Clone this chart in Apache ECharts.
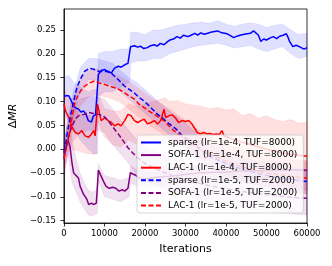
<!DOCTYPE html>
<html><head><meta charset="utf-8">
<script src="https://cdn.jsdelivr.net/npm/echarts@6/dist/echarts.min.js"></script>
<style>html,body{margin:0;padding:0;background:#fff}#c{width:332px;height:266px}</style>
</head><body><div id="c"></div>
<script>
// ---------- data ----------
const seriesNames = ['sparse (lr=1e-4, TUF=8000)','SOFA-1 (lr=1e-4, TUF=8000)','LAC-1 (lr=1e-4, TUF=8000)',
  'sparse (lr=1e-5, TUF=2000)','SOFA-1 (lr=1e-5, TUF=2000)','LAC-1 (lr=1e-5, TUF=2000)'];
const xTicks = [0,10000,20000,30000,40000,50000,60000];
const yTicks = [-0.15,-0.10,-0.05,0.00,0.05,0.10,0.15,0.20,0.25];

// sparse lr=1e-4
const sparse4X = [0,600,1200,1600,2400,3000,3600,4200,4900,5500,6000,6800,7300,7800,8250,8500,9200,10100,10900,11700,12500,13400,14100,15000,15800,16200,16450,17400,18200,18900,19700,20600,21400,22300,23000,23800,24700,25500,26200,27000,27900,28700,29500,30600,31100,32300,33000,33800,34600,35500,36500,37900,39000,40300,41100,41900,42700,43500,44500,46000,46800,47500,48000,48600,49300,50000,50800,51700,52500,53300,54100,54900,55300,55700,56500,57300,58100,58800,59300,60000];
const sparse4Y = [0.111,0.112,0.112,0.105,0.090,0.086,0.084,0.078,0.080,0.072,0.060,0.057,0.070,0.072,0.072,0.157,0.165,0.167,0.162,0.160,0.170,0.174,0.172,0.177,0.180,0.177,0.215,0.217,0.214,0.216,0.211,0.213,0.217,0.219,0.216,0.222,0.219,0.225,0.229,0.231,0.236,0.233,0.239,0.236,0.238,0.243,0.239,0.244,0.241,0.243,0.246,0.248,0.244,0.242,0.238,0.234,0.237,0.239,0.241,0.243,0.248,0.243,0.239,0.226,0.231,0.229,0.233,0.236,0.232,0.237,0.239,0.242,0.235,0.226,0.215,0.218,0.215,0.212,0.210,0.213];
const sparse4BandX = [0,1200,2400,4000,6000,7300,8250,8500,10000,12000,14000,16200,16450,18000,20000,22000,24000,26000,28000,30000,32000,34000,36000,38000,40000,42000,44000,46000,48000,50000,52000,54000,56000,58000,60000];
const sparse4Hi = [0.15,0.155,0.14,0.13,0.12,0.125,0.125,0.2,0.205,0.205,0.21,0.21,0.245,0.245,0.24,0.25,0.25,0.255,0.26,0.262,0.265,0.266,0.264,0.27,0.262,0.258,0.262,0.265,0.262,0.255,0.26,0.262,0.25,0.24,0.243];
const sparse4Lo = [0.07,0.06,0.04,0.02,0.0,-0.01,-0.01,0.11,0.12,0.12,0.13,0.14,0.18,0.185,0.185,0.19,0.19,0.2,0.205,0.21,0.215,0.218,0.22,0.222,0.218,0.212,0.215,0.218,0.21,0.205,0.21,0.215,0.2,0.19,0.195];

// SOFA-1 lr=1e-4
const sofa4X = [0,400,1000,1500,2000,2400,3000,3600,4000,4850,5300,5700,6100,6500,6800,7300,7700,8000,8250,8500,9200,9800,10400,11200,12000,12800,13600,14000,14400,15000,15800,16100,16400,17000,17600,18600,20000,22000,24000,26000,28000,30000,33000,36000,40000,44000,48000,52000,56000,60000];
const sofa4Y = [-0.02,0.0,0.019,0.005,-0.03,-0.05,-0.055,-0.061,-0.078,-0.095,-0.1,-0.106,-0.116,-0.118,-0.113,-0.116,-0.112,-0.113,-0.11,-0.044,-0.057,-0.068,-0.078,-0.082,-0.08,-0.082,-0.088,-0.086,-0.085,-0.088,-0.082,-0.08,-0.049,-0.052,-0.054,-0.061,-0.062,-0.06,-0.058,-0.057,-0.055,-0.053,-0.05,-0.049,-0.048,-0.046,-0.045,-0.044,-0.043,-0.044];
const sofa4BandX = [0,1000,2000,3000,4000,5000,6000,7000,8250,8500,10000,12000,14000,16100,16400,18600,22000,26000,30000,36000,42000,48000,54000,60000];
const sofa4Hi = [0.02,0.05,0.02,-0.02,-0.05,-0.07,-0.085,-0.09,-0.085,-0.03,-0.055,-0.06,-0.065,-0.06,-0.035,-0.045,-0.045,-0.04,-0.035,-0.03,-0.028,-0.025,-0.023,-0.024];
const sofa4Lo = [-0.06,-0.01,-0.07,-0.09,-0.11,-0.125,-0.138,-0.14,-0.135,-0.065,-0.1,-0.105,-0.11,-0.1,-0.07,-0.08,-0.08,-0.075,-0.072,-0.07,-0.068,-0.066,-0.064,-0.065];

// LAC-1 lr=1e-4
const lac4X = [0,400,1200,2000,2800,3600,4400,5200,6100,6800,7300,7700,8100,8300,8900,9200,10100,10900,11700,12500,13400,14100,15000,15800,16600,17400,18200,19000,19800,20600,21500,22300,23100,23900,24300,24700,25100,25900,26700,27500,28300,29200,30000,30800,31200,31600,32100,32900,33700,34500,35300,36000,36800,37600,38400,39000,39500,42000,46000,50000,54000,57000,60000];
const lac4Y = [0.095,0.08,0.066,0.046,0.035,0.032,0.039,0.028,0.025,0.032,0.039,0.028,0.03,0.094,0.07,0.06,0.066,0.06,0.056,0.049,0.053,0.049,0.06,0.073,0.07,0.06,0.056,0.06,0.063,0.053,0.056,0.06,0.053,0.06,0.063,0.084,0.066,0.07,0.072,0.066,0.056,0.06,0.058,0.06,0.063,0.053,0.046,0.035,0.032,0.035,0.032,0.033,0.031,0.032,0.031,0.039,0.028,0.02,0.01,0.0,-0.008,-0.012,-0.015];
const lac4BandX = [0,2000,4000,6000,8100,8300,10000,12000,14000,16000,18000,20000,22000,24000,25000,26000,28000,30000,32000,34000,36000,38000,40000,42000,44000,46000,48000,50000,52000,54000,56000,58000,60000];
const lac4Hi = [0.13,0.09,0.075,0.07,0.07,0.12,0.085,0.08,0.08,0.095,0.09,0.095,0.1,0.105,0.108,0.1,0.102,0.095,0.092,0.09,0.085,0.088,0.082,0.085,0.07,0.075,0.065,0.07,0.062,0.058,0.062,0.055,0.056];
const lac4Lo = [0.06,0.0,-0.005,-0.01,-0.01,0.06,0.025,0.01,0.005,0.02,0.01,0.01,0.015,0.015,0.02,0.02,0.015,0.01,-0.01,-0.02,-0.025,-0.03,-0.035,-0.04,-0.05,-0.055,-0.06,-0.065,-0.07,-0.075,-0.08,-0.085,-0.086];

// sparse lr=1e-5
const sparse5X = [0,400,800,1600,2400,3200,4000,5100,6300,7500,8700,10000,11300,12100,13400,15000,16200,17400,18600,19800,21000,22300,23100,24300,25500,26700,28000,29000,32000,36000,40000,45000,50000,55000,60000];
const sparse5Y = [-0.005,0.01,0.032,0.07,0.1,0.129,0.146,0.163,0.17,0.167,0.163,0.163,0.163,0.156,0.146,0.132,0.125,0.118,0.108,0.101,0.091,0.08,0.073,0.066,0.056,0.049,0.04,0.03,0.01,-0.015,-0.03,-0.045,-0.055,-0.062,-0.068];
const sparse5BandX = [0,2000,4000,6000,8000,10000,12000,14000,16000,18000,20000,22000,24000,26000,28000,30000,35000,40000,45000,50000,55000,60000];
const sparse5Hi = [0.02,0.11,0.17,0.19,0.19,0.185,0.18,0.165,0.15,0.14,0.125,0.11,0.095,0.08,0.068,0.055,0.015,-0.005,-0.02,-0.03,-0.037,-0.043];
const sparse5Lo = [-0.03,0.06,0.12,0.145,0.145,0.14,0.135,0.12,0.105,0.09,0.075,0.06,0.045,0.03,0.015,0.0,-0.04,-0.055,-0.07,-0.08,-0.087,-0.093];

// SOFA-1 lr=1e-5
const sofa5X = [0,500,1200,2000,2800,3600,4900,6100,7300,8500,9700,10900,12100,13400,14600,15800,17000,18200,20000,25000,30000,35000,40000,45000,50000,55000,60000];
const sofa5Y = [-0.01,0.005,0.028,0.049,0.063,0.07,0.073,0.077,0.075,0.073,0.07,0.06,0.046,0.032,0.018,0.003,-0.008,-0.018,-0.03,-0.05,-0.065,-0.075,-0.083,-0.09,-0.095,-0.1,-0.103];
const sofa5BandX = [0,2000,4000,6000,8000,10000,12000,14000,16000,18000,20000,25000,30000,35000,40000,45000,50000,55000,60000];
const sofa5Hi = [0.02,0.085,0.105,0.11,0.11,0.105,0.085,0.06,0.04,0.02,0.005,-0.015,-0.03,-0.04,-0.048,-0.055,-0.06,-0.065,-0.068];
const sofa5Lo = [-0.04,0.015,0.035,0.04,0.04,0.035,0.01,-0.01,-0.03,-0.055,-0.065,-0.085,-0.1,-0.11,-0.118,-0.125,-0.13,-0.135,-0.138];

// LAC-1 lr=1e-5
const lac5X = [0,400,1200,2000,2600,3200,4100,5100,6300,7500,8700,10000,11300,12500,13700,15000,16200,17400,18600,19800,21000,22300,23500,24700,25900,27000,28500,32000,36000,40000,45000,50000,55000,60000];
const lac5Y = [-0.02,-0.017,0.025,0.066,0.095,0.108,0.122,0.132,0.139,0.143,0.139,0.136,0.132,0.129,0.125,0.118,0.111,0.105,0.094,0.087,0.08,0.073,0.066,0.06,0.049,0.04,0.03,0.01,-0.01,-0.025,-0.04,-0.05,-0.056,-0.061];
const lac5BandX = [0,2000,4000,6000,8000,10000,12000,14000,16000,18000,20000,22000,24000,26000,28000,30000,35000,40000,45000,50000,55000,60000];
const lac5Hi = [0.01,0.1,0.15,0.165,0.17,0.163,0.158,0.152,0.142,0.13,0.118,0.105,0.095,0.085,0.072,0.06,0.03,0.01,-0.005,-0.015,-0.02,-0.025];
const lac5Lo = [-0.05,0.035,0.09,0.11,0.115,0.11,0.105,0.098,0.085,0.07,0.058,0.045,0.035,0.02,0.01,0.0,-0.03,-0.055,-0.07,-0.08,-0.088,-0.095];

// ---------- build ----------
const FONT = 'DejaVu Sans';
const BLUE = '#0000ff', PURPLE = '#800080', RED = '#ff0000';
const bandRGBA = {[BLUE]:'rgba(0,0,255,0.12)', [PURPLE]:'rgba(128,0,128,0.12)', [RED]:'rgba(255,0,0,0.12)'};

function band(id, xs, lo, hi, color){
  const c = bandRGBA[color];
  const data = xs.map((x,i)=>[x, lo[i], hi[i]]);
  return {
    type:'custom', name:id, data, silent:true, z:1, clip:true,
    encode:{x:0, y:[1,2]},
    renderItem(params, api){
      if (params.dataIndex !== 0) return null;
      const top = data.map(d => api.coord([d[0], d[2]]));
      const bot = data.map(d => api.coord([d[0], d[1]])).reverse();
      return {type:'polygon', shape:{points: top.concat(bot)},
              style:{fill:c, stroke:c, lineWidth:0.6}};
    }
  };
}
function line(name, xs, ys, color, dashed){
  return {type:'line', name, data: xs.map((x,i)=>[x, ys[i]]), symbol:'none', z:3,
    lineStyle:{width:1.5, color, type: dashed ? [5,2.5] : 'solid'}, itemStyle:{color}, animation:false};
}

const series = [
  band('b1', sparse4BandX, sparse4Lo, sparse4Hi, BLUE),
  band('b2', sofa4BandX, sofa4Lo, sofa4Hi, PURPLE),
  band('b3', lac4BandX, lac4Lo, lac4Hi, RED),
  band('b4', sparse5BandX, sparse5Lo, sparse5Hi, BLUE),
  band('b5', sofa5BandX, sofa5Lo, sofa5Hi, PURPLE),
  band('b6', lac5BandX, lac5Lo, lac5Hi, RED),
  line(seriesNames[0], sparse4X, sparse4Y, BLUE, false),
  line(seriesNames[1], sofa4X, sofa4Y, PURPLE, false),
  line(seriesNames[2], lac4X, lac4Y, RED, false),
  line(seriesNames[3], sparse5X, sparse5Y, BLUE, true),
  line(seriesNames[4], sofa5X, sofa5Y, PURPLE, true),
  line(seriesNames[5], lac5X, lac5Y, RED, true)
];

const fmtY = v => (v < 0 ? '\u2212' : '') + Math.abs(v).toFixed(2);

const chart = echarts.init(document.getElementById('c'), null, {renderer:'canvas'});
chart.setOption({
  animation:false,
  backgroundColor:'#fff',
  grid:{left:60, right:25, top:9, bottom:43, show:true, borderColor:'#000', borderWidth:0.8, backgroundColor:'transparent'},
  xAxis:{type:'value', min:0, max:60000, interval:10000,
    name:'Iterations', nameLocation:'middle', nameGap:21,
    nameTextStyle:{fontFamily:FONT, fontSize:11, color:'#000'},
    axisLine:{onZero:false, lineStyle:{color:'#000', width:0.8}},
    axisTick:{length:3.5, lineStyle:{color:'#000', width:0.8}},
    axisLabel:{fontFamily:FONT, fontSize:8.5, color:'#000', margin:6, formatter: v => xTicks.includes(v) ? String(v) : ''},
    splitLine:{show:false}},
  yAxis:{type:'value', min:-0.1548, max:0.294,
    name:'{d|Δ}{m|MR}', nameLocation:'middle', nameGap:30,
    nameTextStyle:{rich:{d:{fontFamily:FONT, fontSize:11, color:'#000'}, m:{fontFamily:FONT, fontSize:11, fontStyle:'italic', color:'#000'}}},
    axisLine:{show:true, onZero:false, lineStyle:{color:'#000', width:0.8}},
    axisTick:{show:true, length:3.5, customValues:yTicks, lineStyle:{color:'#000', width:0.8}},
    axisLabel:{fontFamily:FONT, fontSize:8.5, color:'#000', margin:8, customValues:yTicks, formatter: fmtY},
    splitLine:{show:false}},
  legend:{data:seriesNames, orient:'vertical', left:137, top:135, width:165,
    padding:[3,6,3,3], itemWidth:20, itemHeight:10, itemGap:3.6,
    backgroundColor:'rgba(255,255,255,0.8)', borderColor:'#cccccc', borderWidth:0.8, borderRadius:3,
    itemStyle:{opacity:0},
    textStyle:{fontFamily:FONT, fontSize:9, color:'#000', padding:[0,0,0,2]},
    selectedMode:false},
  series
});
</script>
</body></html>
